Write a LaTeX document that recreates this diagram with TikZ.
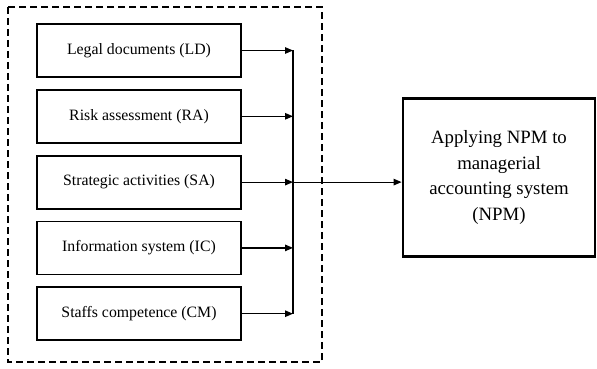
\documentclass[tikz,border=0pt]{standalone}
\usepackage{fontspec}
\setmainfont{Liberation Serif}
\usetikzlibrary{arrows.meta,positioning}
\tikzset{
    factorbox/.style={draw, line width=1.8pt, align=center, inner sep=0pt,
        font=\fontsize{15.8}{18}\selectfont,
        minimum width=204pt, minimum height=53pt},
    linkarrow/.style={-{Triangle[length=8pt,width=6.5pt]}, line width=1.2pt}
}

\begin{document}
\begin{tikzpicture}[
    x=1pt, y=1pt,
    node distance=11pt,
    resultbox/.style={draw, line width=2.8pt, align=center, inner sep=0pt,
        font=\fontsize{18.8}{25.5}\selectfont,
        minimum width=192pt, minimum height=158pt},
    groupline/.style={draw, line width=2.6pt, dash pattern=on 7pt off 4pt}
]
\useasboundingbox (0,0) rectangle (597,-369);
\draw[groupline] (8,-7) rectangle (322,-362);
\node[factorbox] (ld) at (139,-50.5) {Legal documents (LD)};
\node[factorbox, below=of ld] (ra) {Risk assessment (RA)};
\node[factorbox, below=of ra] (sa) {Strategic activities (SA)};
\node[factorbox, below=of sa] (ic) {Information system (IC)};
\node[factorbox, below=of ic] (cm) {Staffs competence (CM)};
\coordinate (bus) at (293,0);
\foreach \src in {ld,ra,sa,ic,cm}
    \draw[linkarrow] (\src.east) -- (\src.east -| bus);
\draw[line width=1.2pt] (ld.east -| bus) -- (cm.east -| bus);
\node[resultbox] (npm) at (499,-177.5) {Applying NPM to\\managerial\\accounting system\\(NPM)};
\draw[linkarrow] (sa.east -| bus) -- (npm.west |- sa.east);
\end{tikzpicture}
\end{document}
